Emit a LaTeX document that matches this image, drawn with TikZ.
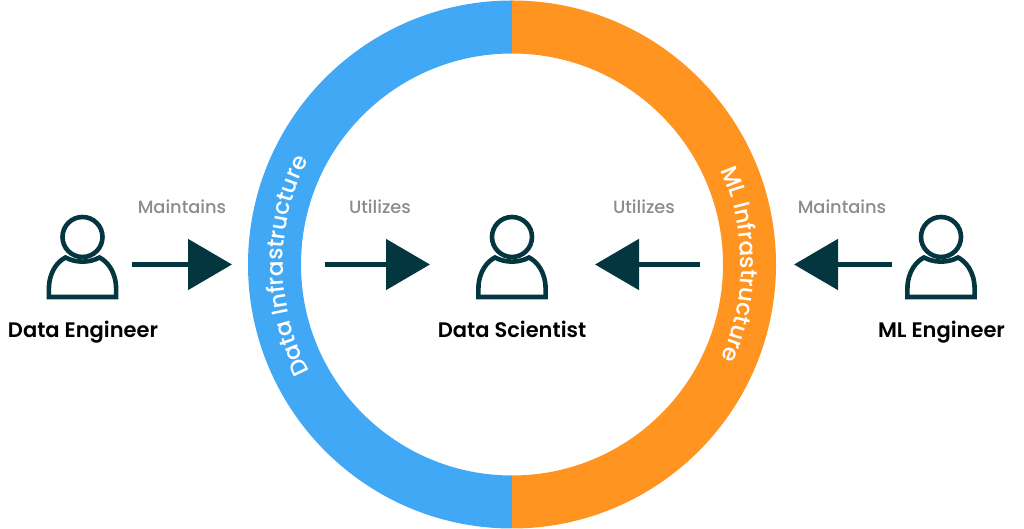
\documentclass[tikz,border=0pt]{standalone}
\usepackage{fontspec}
\setmainfont{Poppins}
\newfontfamily\rolefont{Poppins SemiBold}
\newfontfamily\verbfont{Poppins Medium}
\usetikzlibrary{arrows.meta,decorations.text}
\definecolor{ringblue}{HTML}{41A8F6}
\definecolor{ringorange}{HTML}{FF9420}
\definecolor{darkteal}{HTML}{03363F}
\definecolor{labelgrey}{HTML}{8C8C8C}
\tikzset{
person/.pic={
  \draw[line width=4.6pt,darkteal] (0,0) circle (20);
  \draw[line width=4.6pt,darkteal,miter limit=2] (-33.6,-60) -- (-33.6,-52)
    .. controls (-33.6,-34) and (-24,-24) .. (-17,-20.5)
    .. controls (-7,-26) and (7,-26) .. (17,-20.5)
    .. controls (24,-24) and (33.6,-34) .. (33.6,-52)
    -- (33.6,-60) -- cycle;
  },
role/.style={font=\rolefont\fontsize{21}{25}\selectfont,text=black,inner sep=0pt,anchor=base},
verb/.style={font=\verbfont\fontsize{17.8}{21}\selectfont,text=labelgrey,inner sep=0pt,anchor=base},
flow/.style={line width=5.2pt,darkteal,-{Triangle[length=44pt,width=50pt]}},
ringtext/.style={decorate,decoration={text along path,text align=center,
  text color=white,text={|\verbfont\fontsize{23}{27}\selectfont|#1}}}
}
\begin{document}
\begin{tikzpicture}[x=1pt,y=1pt]
  \useasboundingbox (0,0) rectangle (1024,529);

  % ring
  \fill[ringblue] (512,528.5) arc (90:270:264) -- (512,53.5) arc (270:90:211) -- cycle;
  \fill[ringorange] (512,528.5) arc (90:-90:264) -- (512,53.5) arc (-90:90:211) -- cycle;
  \path[ringtext=Data Infrastructure] (512,264.5) ++(213.4:229) arc (213.4:147.4:229);
  \path[ringtext=ML Infrastructure] (512,264.5) ++(30:229) arc (30:-30:229);

  % people
  \pic at (82.5,292) {person};
  \pic at (512,292) {person};
  \pic at (941,292) {person};

  \node[role] (dataeng) at (83,191) {Data Engineer};
  \node[role] (datasci) at (512,191) {Data Scientist};
  \node[role] (mleng) at (941.5,191) {ML Engineer};

  \node[verb] (maintainl) at (182,315) {Maintains};
  \node[verb] (utilizel) at (380,315) {Utilizes};
  \node[verb] (utilizer) at (644,315) {Utilizes};
  \node[verb] (maintainr) at (842,315) {Maintains};

  % arrows
  \coordinate (a1) at (132,264.5);
  \coordinate (b1) at (232,264.5);
  \coordinate (a2) at (325,264.5);
  \coordinate (b2) at (430,264.5);
  \coordinate (a3) at (700,264.5);
  \coordinate (b3) at (595,264.5);
  \coordinate (a4) at (892,264.5);
  \coordinate (b4) at (794,264.5);
  \draw[flow] (a1) -- (b1);
  \draw[flow] (a2) -- (b2);
  \draw[flow] (a3) -- (b3);
  \draw[flow] (a4) -- (b4);

\end{tikzpicture}
\end{document}
